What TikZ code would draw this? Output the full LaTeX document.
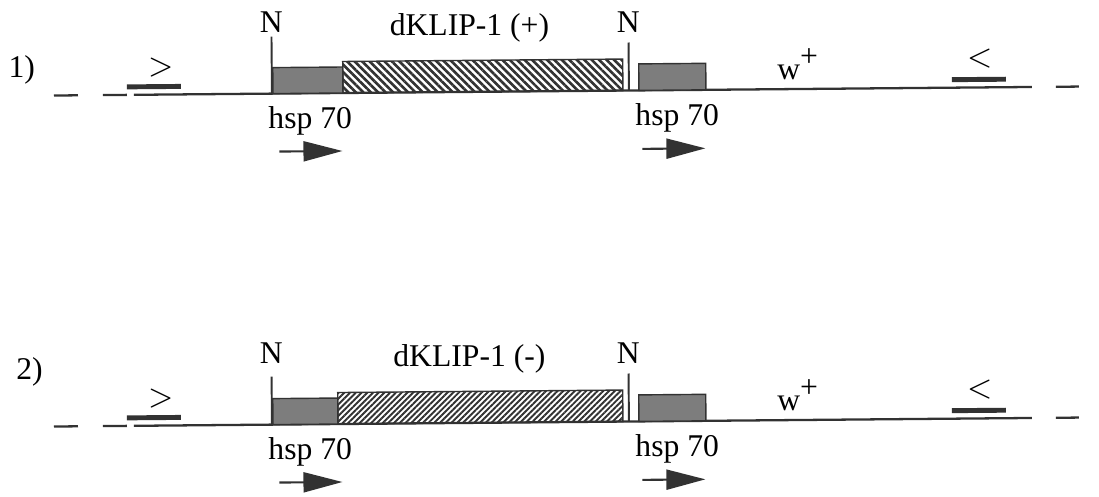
\documentclass[tikz,border=0pt]{standalone}
\usepackage{fontspec}
\setmainfont{Liberation Serif}
\usetikzlibrary{arrows.meta, patterns.meta}
\definecolor{inkgray}{RGB}{50,50,50}
\definecolor{boxgray}{RGB}{125,125,125}

\tikzset{
  dna/.style={inkgray, line width=0.65pt},
  primer/.style={inkgray, line width=1.4pt},
  siteline/.style={inkgray, line width=0.55pt},
  hspbox/.style={fill=boxgray, draw=inkgray, line width=0.4pt},
  orfbox/.style={draw=inkgray, line width=0.4pt},
  dirarrow/.style={inkgray, line width=0.6pt, -{Triangle[length=3.9mm, width=2mm]}},
  lbl/.style={inner sep=0pt, font=\fontsize{9}{11}\selectfont},
}

\begin{document}
\begin{tikzpicture}
  \useasboundingbox (0,0) rectangle (10.99,4.97);

  % One construct per row
  \foreach \r/\y/\sx/\sy/\orf/\ang/\dist/\lw/\nh/\hx in
      {1/4.01/0.22/0.26/{dKLIP-1 (+)}/-45/1.5pt/0.75pt/0.57/3.43,
       2/0.70/0.30/0.55/{dKLIP-1 (-)}/45/1.15pt/0.55pt/0.48/3.38} {
  \begin{scope}[shift={(0,\y)}, rotate=0.5]
    % row number
    \node[lbl] (row\r) at (\sx,\sy) {\r)};

    % flanking DNA
    \draw[dna] (0.54,0) -- (0.78,0);
    \draw[dna] (1.03,0) -- (1.27,0);
    \draw[dna] (1.34,0) -- (10.32,0);
    \draw[dna] (10.56,0) -- (10.79,0);

    % primers
    \draw[primer] (1.27,0.08) -- (1.81,0.08);
    \draw[primer] (9.52,0.08) -- (10.06,0.08);
    \node[lbl] (fwd\r) at (1.61,0.27) {$>$};
    \node[lbl] (rev\r) at (9.80,0.29) {$<$};

    % NotI sites
    \draw[siteline] (2.72,0) -- (2.72,\nh);
    \draw[siteline] (6.29,0) -- (6.29,0.48);
    \node[lbl] (siteA\r) at (2.72,0.71) {N};
    \node[lbl] (siteB\r) at (6.29,0.68) {N};

    % hsp 70 blocks and insert
    \draw[hspbox] (2.73,0) rectangle (\hx,0.26);
    \fill[pattern={Lines[angle=\ang, distance=\dist, line width=\lw]},
          pattern color=inkgray] (\hx,0) rectangle (6.23,0.315);
    \draw[orfbox] (\hx,0) rectangle (6.23,0.315);
    \draw[hspbox] (6.39,0) rectangle (7.06,0.265);

    \node[lbl] (orf\r) at (4.70,0.64) {\orf};
    \node[lbl] (white\r) at (7.98,0.25)
      {w\raisebox{0.9ex}{\fontsize{9}{9}\selectfont +}};

    % hsp 70 labels and direction
    \node[lbl] (hspA\r) at (3.10,-0.28) {hsp 70};
    \node[lbl] (hspB\r) at (6.77,-0.28) {hsp 70};
    \coordinate (dirA\r) at (2.79,-0.58);
    \coordinate (dirB\r) at (6.42,-0.585);
    \draw[dirarrow] (dirA\r) -- ++(0.63,0);
    \draw[dirarrow] (dirB\r) -- ++(0.63,0);
  \end{scope}
  }
\end{tikzpicture}
\end{document}
